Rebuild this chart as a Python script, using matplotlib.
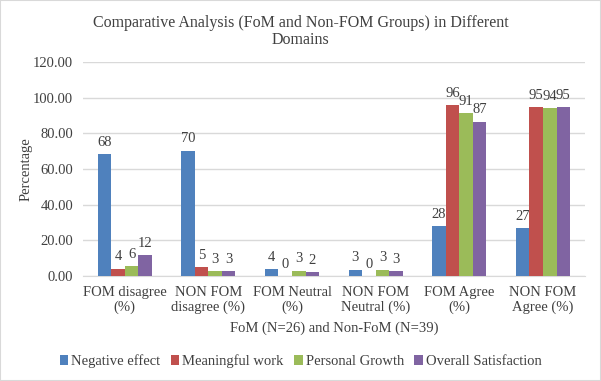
import matplotlib.pyplot as plt
import numpy as np

# Data
categories = ["FOM disagree\n(%)", "NON FOM\ndisagree (%)", "FOM Neutral\n(%)",
              "NON FOM\nNeutral (%)", "FOM Agree\n(%)", "NON FOM\nAgree (%)"]
negative_effect = [68.4, 70.3, 3.9, 3.4, 28.0, 26.9]
meaningful_work = [4.1, 5.0, 0.0, 0.0, 95.9, 94.8]
personal_growth = [5.6, 2.6, 3.0, 3.4, 91.4, 94.2]
overall_satisfaction = [11.6, 2.6, 1.9, 2.6, 86.6, 94.8]

series = [
    ("Negative effect", negative_effect, "#4f81bd"),
    ("Meaningful work", meaningful_work, "#c0504d"),
    ("Personal Growth", personal_growth, "#9bbb59"),
    ("Overall Satisfaction", overall_satisfaction, "#8064a2"),
]

plt.rcParams['font.family'] = ['Liberation Serif', 'DejaVu Serif']
text_col = "#404040"

fig = plt.figure(figsize=(6.01, 3.81), dpi=100)
ax = fig.add_axes([0.138, 0.276, 0.835, 0.561])

x = np.arange(len(categories))
w = 0.162
for i, (name, vals, col) in enumerate(series):
    pos = x + (i - 1.5) * w
    bars = ax.bar(pos, vals, w, color=col, label=name, zorder=3)
    for b, v in zip(bars, vals):
        ax.text(b.get_x() + b.get_width() / 2, v + 3, "%.0f" % v,
                ha="center", va="bottom", fontsize=10.5, color=text_col)

ax.set_xlim(-0.5, len(categories) - 0.5)
ax.set_ylim(0, 120)
ax.set_yticks(np.arange(0, 121, 20))
ax.set_yticklabels(["%.2f" % t for t in np.arange(0, 121, 20)])
ax.grid(axis="y", color="#d9d9d9", linewidth=1, zorder=0)
ax.set_xticks(x)
ax.set_xticklabels(categories)
ax.tick_params(axis="both", length=0, labelsize=10.5, colors=text_col)
ax.tick_params(axis="y", pad=7)
ax.tick_params(axis="x", pad=7)
for s in ["top", "right", "left"]:
    ax.spines[s].set_visible(False)
ax.spines["bottom"].set_color("#d9d9d9")

ax.set_ylabel("Percentage", fontsize=10.5, color=text_col, labelpad=0)
ax.set_xlabel("FoM (N=26) and Non-FoM (N=39)", fontsize=10.5, color=text_col, labelpad=5)
fig.suptitle("Comparative Analysis (FoM and Non-FOM Groups) in Different\nDomains",
             fontsize=11.5, color=text_col, y=0.96, linespacing=1.05)

fig.legend(loc="center", bbox_to_anchor=(0.5, 0.052), ncol=4, frameon=False,
           prop={"family": "Liberation Serif", "size": 10.5},
           handlelength=0.6, handleheight=0.6, handletextpad=0.2,
           columnspacing=0.7, labelcolor=text_col)

fig.patches.append(plt.Rectangle((0, 0), 1, 1, transform=fig.transFigure,
                                 fill=False, edgecolor="#d9d9d9", linewidth=1.5))

fig.savefig("out.png", dpi=100)
